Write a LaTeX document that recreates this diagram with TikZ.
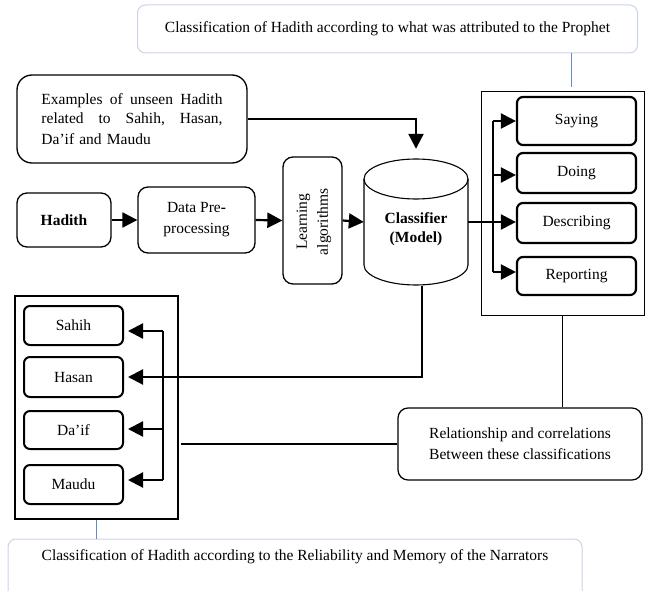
\documentclass[tikz,border=0pt]{standalone}
\usepackage{fontspec}
\setmainfont{Liberation Serif}
\usetikzlibrary{arrows.meta}
\definecolor{lightframe}{RGB}{200,212,232}
\definecolor{bluecon}{RGB}{100,140,200}
\begin{document}
\begin{tikzpicture}[x=1pt,y=-1pt,
  txt/.style={font=\fontsize{15.5}{21}\selectfont},
  rbox/.style={draw, rounded corners=10pt, line width=1.3pt, align=center, txt, inner sep=0pt},
  sbox/.style={draw, rounded corners=6pt, line width=2.2pt, minimum width=119pt, txt, inner sep=0pt},
  lbox/.style={draw, rounded corners=6pt, line width=2pt, minimum width=99pt, txt, inner sep=0pt},
  frame/.style={draw, inner sep=0pt},
  lightbox/.style={draw=lightframe, rounded corners=8pt, line width=1pt, txt, inner sep=0pt},
  arr/.style={-{Triangle[length=15pt,width=15pt]}, line width=2.2pt},
  thinline/.style={line width=1.1pt},
  blueline/.style={draw=bluecon, line width=0.8pt}]
\useasboundingbox (0,0) rectangle (648,591);
\clip (0,0) rectangle (648,591);

% top and bottom classification boxes
\node[lightbox, minimum width=500pt, minimum height=48pt] (topbox) at (387.5,29) {Classification of Hadith according to what was attributed to the Prophet};
\node[lightbox, minimum width=574pt, minimum height=70pt] (botbox) at (295,574) {};
\node[txt] (bottxt) at (295,557) {Classification of Hadith according to the Reliability and Memory of the Narrators};

% upper pipeline
\node[rbox, rounded corners=15pt, minimum width=230pt, minimum height=88pt, text width=181pt, align=left] (ex) at (132,119)
  {\fontsize{15.5}{18.5}\selectfont\leavevmode\hbox to 181pt{Examples\hfill of\hfill unseen\hfill Hadith}\\\leavevmode\hbox to 181pt{related\hfill to\hfill Sahih,\hfill Hasan,}\\Da’if and Maudu};
\node[rbox, minimum width=94pt, minimum height=54pt] (hadith) at (64,220) {\bfseries Hadith};
\node[rbox, minimum width=117pt, minimum height=66pt] (data) at (196.5,220) {Data Pre\textbf{-}\\processing};
\node[rbox, minimum width=59pt, minimum height=127pt] (learn) at (312.5,220.5) {};
\node[txt, rotate=90, align=center, inner sep=0pt] (learntxt) at (314,222) {Learning\\algorithms};

% classifier cylinder
\node[minimum width=104pt, minimum height=128pt, inner sep=0pt] (cls) at (416,222) {};
\draw[line width=1.1pt] (416,179) ellipse [x radius=52pt, y radius=20pt];
\draw[line width=1.1pt] (364,179) -- (364,265) arc[start angle=180, end angle=360, x radius=52pt, y radius=20pt] -- (468,179);
\node[txt, align=center, font=\fontsize{15.5}{19}\selectfont\bfseries] (clstxt) at (416,229.5) {Classifier\\(Model)};

\draw[arr] (hadith.east) -- (data.west);
\draw[arr] (data.east) -- (learn.west);
\draw[arr] (learn.east) -- (cls.west);
\draw[arr] (ex.east) -| ([yshift=9pt]cls.north);

% right frame
\node[frame, line width=1pt, minimum width=163pt, minimum height=223pt] (rframe) at (562.5,203.5) {};
\node[sbox, minimum height=48pt] (saying) at (576.5,121) {Saying};
\node[sbox, minimum height=40pt] (doing) at (576.5,173) {\raisebox{-4pt}{Doing}};
\node[sbox, minimum height=40pt] (desc) at (576.5,223) {\raisebox{-3pt}{Describing}};
\node[sbox, minimum height=38pt] (report) at (576.5,276) {\raisebox{-3pt}{Reporting}};
\coordinate (rb1) at (493,121);
\coordinate (rb2) at (493,175);
\coordinate (rb3) at (493,222);
\coordinate (rb4) at (493,272);
\draw[line width=1.2pt] (rb1) -- (rb4);
\draw[thinline] (cls.east) -- (rb3);
\draw[arr] (rb1) -- (rb1 -| saying.west);
\draw[arr] (rb2) -- (rb2 -| doing.west);
\draw[arr] (rb3) -- (rb3 -| desc.west);
\draw[arr] (rb4) -- (rb4 -| report.west);
\coordinate (tc) at (571,87);
\draw[blueline] (tc |- topbox.south) -- (tc);

% left frame
\node[frame, line width=2.5pt, minimum width=163pt, minimum height=223pt] (lframe) at (96.5,407.5) {};
\node[lbox, minimum height=39pt] (sahih) at (73.5,325.5) {Sahih};
\node[lbox, minimum height=40pt] (hasan) at (73.5,377) {Hasan};
\node[lbox, minimum height=38pt] (daif) at (73.5,430) {Da’if};
\node[lbox, minimum height=39pt] (maudu) at (73.5,484.5) {Maudu};
\coordinate (lb1) at (163,331);
\coordinate (lb2) at (163,377);
\coordinate (lb3) at (163,429);
\coordinate (lb4) at (163,480);
\draw[line width=1.2pt] (lb1) -- (lb4);
\draw[thinline] ([xshift=6pt]cls.south) |- (lb2);
\draw[arr, shorten >=4pt] (lb1) -- (lb1 -| sahih.east);
\draw[arr, shorten >=4pt] (lb2) -- (lb2 -| hasan.east);
\draw[arr, shorten >=4pt] (lb3) -- (lb3 -| daif.east);
\draw[arr, shorten >=4pt] (lb4) -- (lb4 -| maudu.east);
\draw[blueline] (lframe.south) -- (lframe.south |- botbox.north);

% relationship box
\node[rbox, line width=1.2pt, minimum width=244pt, minimum height=72pt] (rel) at (520,444) {Relationship and correlations\\Between these classifications};
\draw[thinline] (rel.west) -- ([xshift=2pt]rel.west -| lframe.east);
\draw[thinline] (rframe.south) -- (rframe.south |- rel.north);
\end{tikzpicture}
\end{document}
